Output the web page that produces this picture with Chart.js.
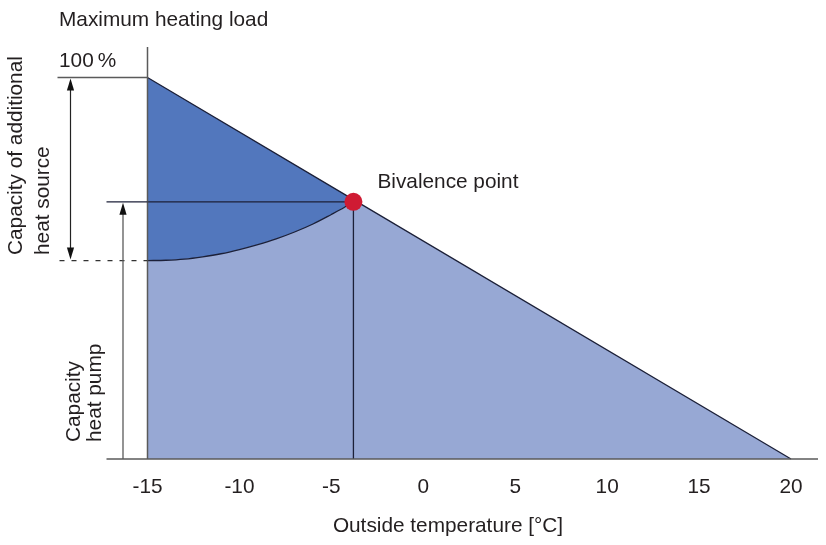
<!DOCTYPE html>
<html>
<head>
<meta charset="utf-8">
<script src="https://cdn.jsdelivr.net/npm/chart.js@4.4.1/dist/chart.umd.min.js"></script>
<style>
  html, body { margin: 0; padding: 0; background: #ffffff; }
  canvas { display: block; }
</style>
</head>
<body>
<canvas id="c" width="826" height="545"></canvas>
<script>
// ---- data ----
const xTicks = [-15, -10, -5, 0, 5, 10, 15, 20];           // outside temperature [°C]
const loadTemps = [-15, -3.8, 20];                          // heating load line
const loadValues = [100, 68, 0];                            // % of maximum heating load
const pumpTemps = [-15, -14, -13, -12, -11, -10, -9, -8, -7, -6, -5, -4.5, -3.8];
const pumpValues = [52, 52.1, 52.4, 53, 53.8, 54.9, 56.2, 57.7, 59.5, 61.6, 64.1, 65.4, 67.4];
const bivalenceTemp = [-3.8];
const bivalenceLoad = [67.4];
const axisTopValue = 108;

// ---- styling ----
const navy = '#1c2038';
const grey = '#5a5a5a';
const textCol = '#231f20';
const darkBlue = '#5277bd';
const lightBlue = '#97a8d4';
const red = '#cf1b33';
const FONT = "'Liberation Sans', Arial, Helvetica, sans-serif";
const FS = 20.8;

Chart.defaults.font.family = FONT;
Chart.defaults.color = textCol;

const toPts = (xs, ys) => xs.map((v, i) => ({ x: v, y: ys[i] }));

const annotate = {
  id: 'annotate',
  afterDatasetsDraw(chart) {
    const { ctx, scales: { x, y } } = chart;
    const X = v => x.getPixelForValue(v);
    const Y = v => y.getPixelForValue(v);
    const left = X(xTicks[0]);
    const right = X(xTicks[xTicks.length - 1]);
    const yb = Y(0);
    const y100 = Y(loadValues[0]);
    const yBiv = Y(bivalenceLoad[0]);
    const yPump = Y(pumpValues[0]);

    const line = (x1, y1, x2, y2, col, lw, dash) => {
      ctx.save();
      ctx.beginPath();
      ctx.strokeStyle = col; ctx.lineWidth = lw;
      ctx.setLineDash(dash || []);
      ctx.moveTo(x1, y1); ctx.lineTo(x2, y2);
      ctx.stroke();
      ctx.restore();
    };
    const head = (hx, hy, dir) => {
      ctx.save();
      ctx.fillStyle = '#111';
      ctx.beginPath();
      ctx.moveTo(hx, hy);
      ctx.lineTo(hx - 3.6, hy + dir * 12);
      ctx.lineTo(hx + 3.6, hy + dir * 12);
      ctx.closePath();
      ctx.fill();
      ctx.restore();
    };

    // axes
    line(left, Y(axisTopValue), left, yb, grey, 1.5);
    line(left - 41, yb, right + 27, yb, grey, 1.6);
    // 100 % marker
    line(left - 90, y100, left, y100, grey, 1.5);
    // bivalence level marker
    line(left - 41, yBiv, left, yBiv, navy, 1.3);
    // heat pump capacity at lowest temperature (dashed)
    line(left - 88, yPump, left, yPump, '#333', 1.2, [5, 7]);

    // double arrow: capacity of additional heat source
    const ax1 = left - 77;
    line(ax1, y100 + 6, ax1, yPump - 6, '#222', 1.2);
    head(ax1, y100 + 1, 1);
    head(ax1, yPump - 1, -1);
    // single arrow: capacity heat pump
    const ax2 = left - 24.5;
    line(ax2, yb, ax2, yBiv + 6, grey, 1.3);
    head(ax2, yBiv + 1, 1);

    // texts
    ctx.save();
    ctx.fillStyle = textCol;
    ctx.font = FS + 'px ' + FONT;
    ctx.textAlign = 'left';
    ctx.textBaseline = 'alphabetic';
    ctx.fillText('Maximum heating load', 59, 26);
    ctx.fillText('100\u2009%', 59, 67);
    ctx.fillText('Bivalence point', X(bivalenceTemp[0]) + 24, yBiv - 14);
    ctx.textAlign = 'center';
    ctx.fillText('Outside temperature [°C]', 448, 532);

    const vtext = (s, bx, by) => {
      ctx.save();
      ctx.translate(bx, by);
      ctx.rotate(-Math.PI / 2);
      ctx.textAlign = 'left';
      ctx.fillText(s, 0, 0);
      ctx.restore();
    };
    vtext('Capacity of additional', 22, 255);
    vtext('heat source', 49, 255);
    vtext('Capacity', 80, 442);
    vtext('heat pump', 101, 442);
    ctx.restore();
  }
};

new Chart(document.getElementById('c'), {
  type: 'scatter',
  data: {
    datasets: [
      {
        label: 'Bivalence point',
        data: toPts(bivalenceTemp, bivalenceLoad),
        pointRadius: 9, pointHoverRadius: 9,
        backgroundColor: red, borderWidth: 0,
        clip: false, order: 0
      },
      {
        label: 'Heat pump capacity',
        data: toPts(pumpTemps, pumpValues),
        showLine: true, pointRadius: 0,
        borderColor: navy, borderWidth: 1.3,
        backgroundColor: darkBlue,
        fill: { target: 2, above: darkBlue, below: darkBlue },
        cubicInterpolationMode: 'monotone',
        clip: false, order: 1
      },
      {
        label: 'Heating load',
        data: toPts(loadTemps, loadValues),
        showLine: true, pointRadius: 0,
        borderColor: navy, borderWidth: 1.3,
        backgroundColor: lightBlue,
        fill: 'origin',
        clip: false, order: 3
      },
      {
        label: 'Bivalence guides',
        data: [
          { x: xTicks[0], y: bivalenceLoad[0] },
          { x: bivalenceTemp[0], y: bivalenceLoad[0] },
          { x: bivalenceTemp[0], y: 0 }
        ],
        showLine: true, pointRadius: 0,
        borderColor: navy, borderWidth: 1.3,
        fill: false, clip: false, order: 2
      }
    ]
  },
  options: {
    responsive: false,
    animation: false,
    devicePixelRatio: 1,
    layout: { padding: { left: 147.5, right: 35, top: 77.5, bottom: 0 } },
    plugins: {
      legend: { display: false },
      tooltip: { enabled: false },
      filler: { drawTime: 'beforeDatasetsDraw' }
    },
    scales: {
      x: {
        type: 'linear',
        min: xTicks[0], max: xTicks[xTicks.length - 1],
        afterBuildTicks: s => { s.ticks = xTicks.map(v => ({ value: v })); },
        afterFit: s => { s.height = 86; },
        grid: { display: false, drawTicks: false },
        border: { display: false },
        ticks: { font: { size: FS }, color: textCol, padding: 16, maxRotation: 0 }
      },
      y: {
        type: 'linear', min: 0, max: 100, display: false
      }
    }
  },
  plugins: [annotate]
});
</script>
</body>
</html>
